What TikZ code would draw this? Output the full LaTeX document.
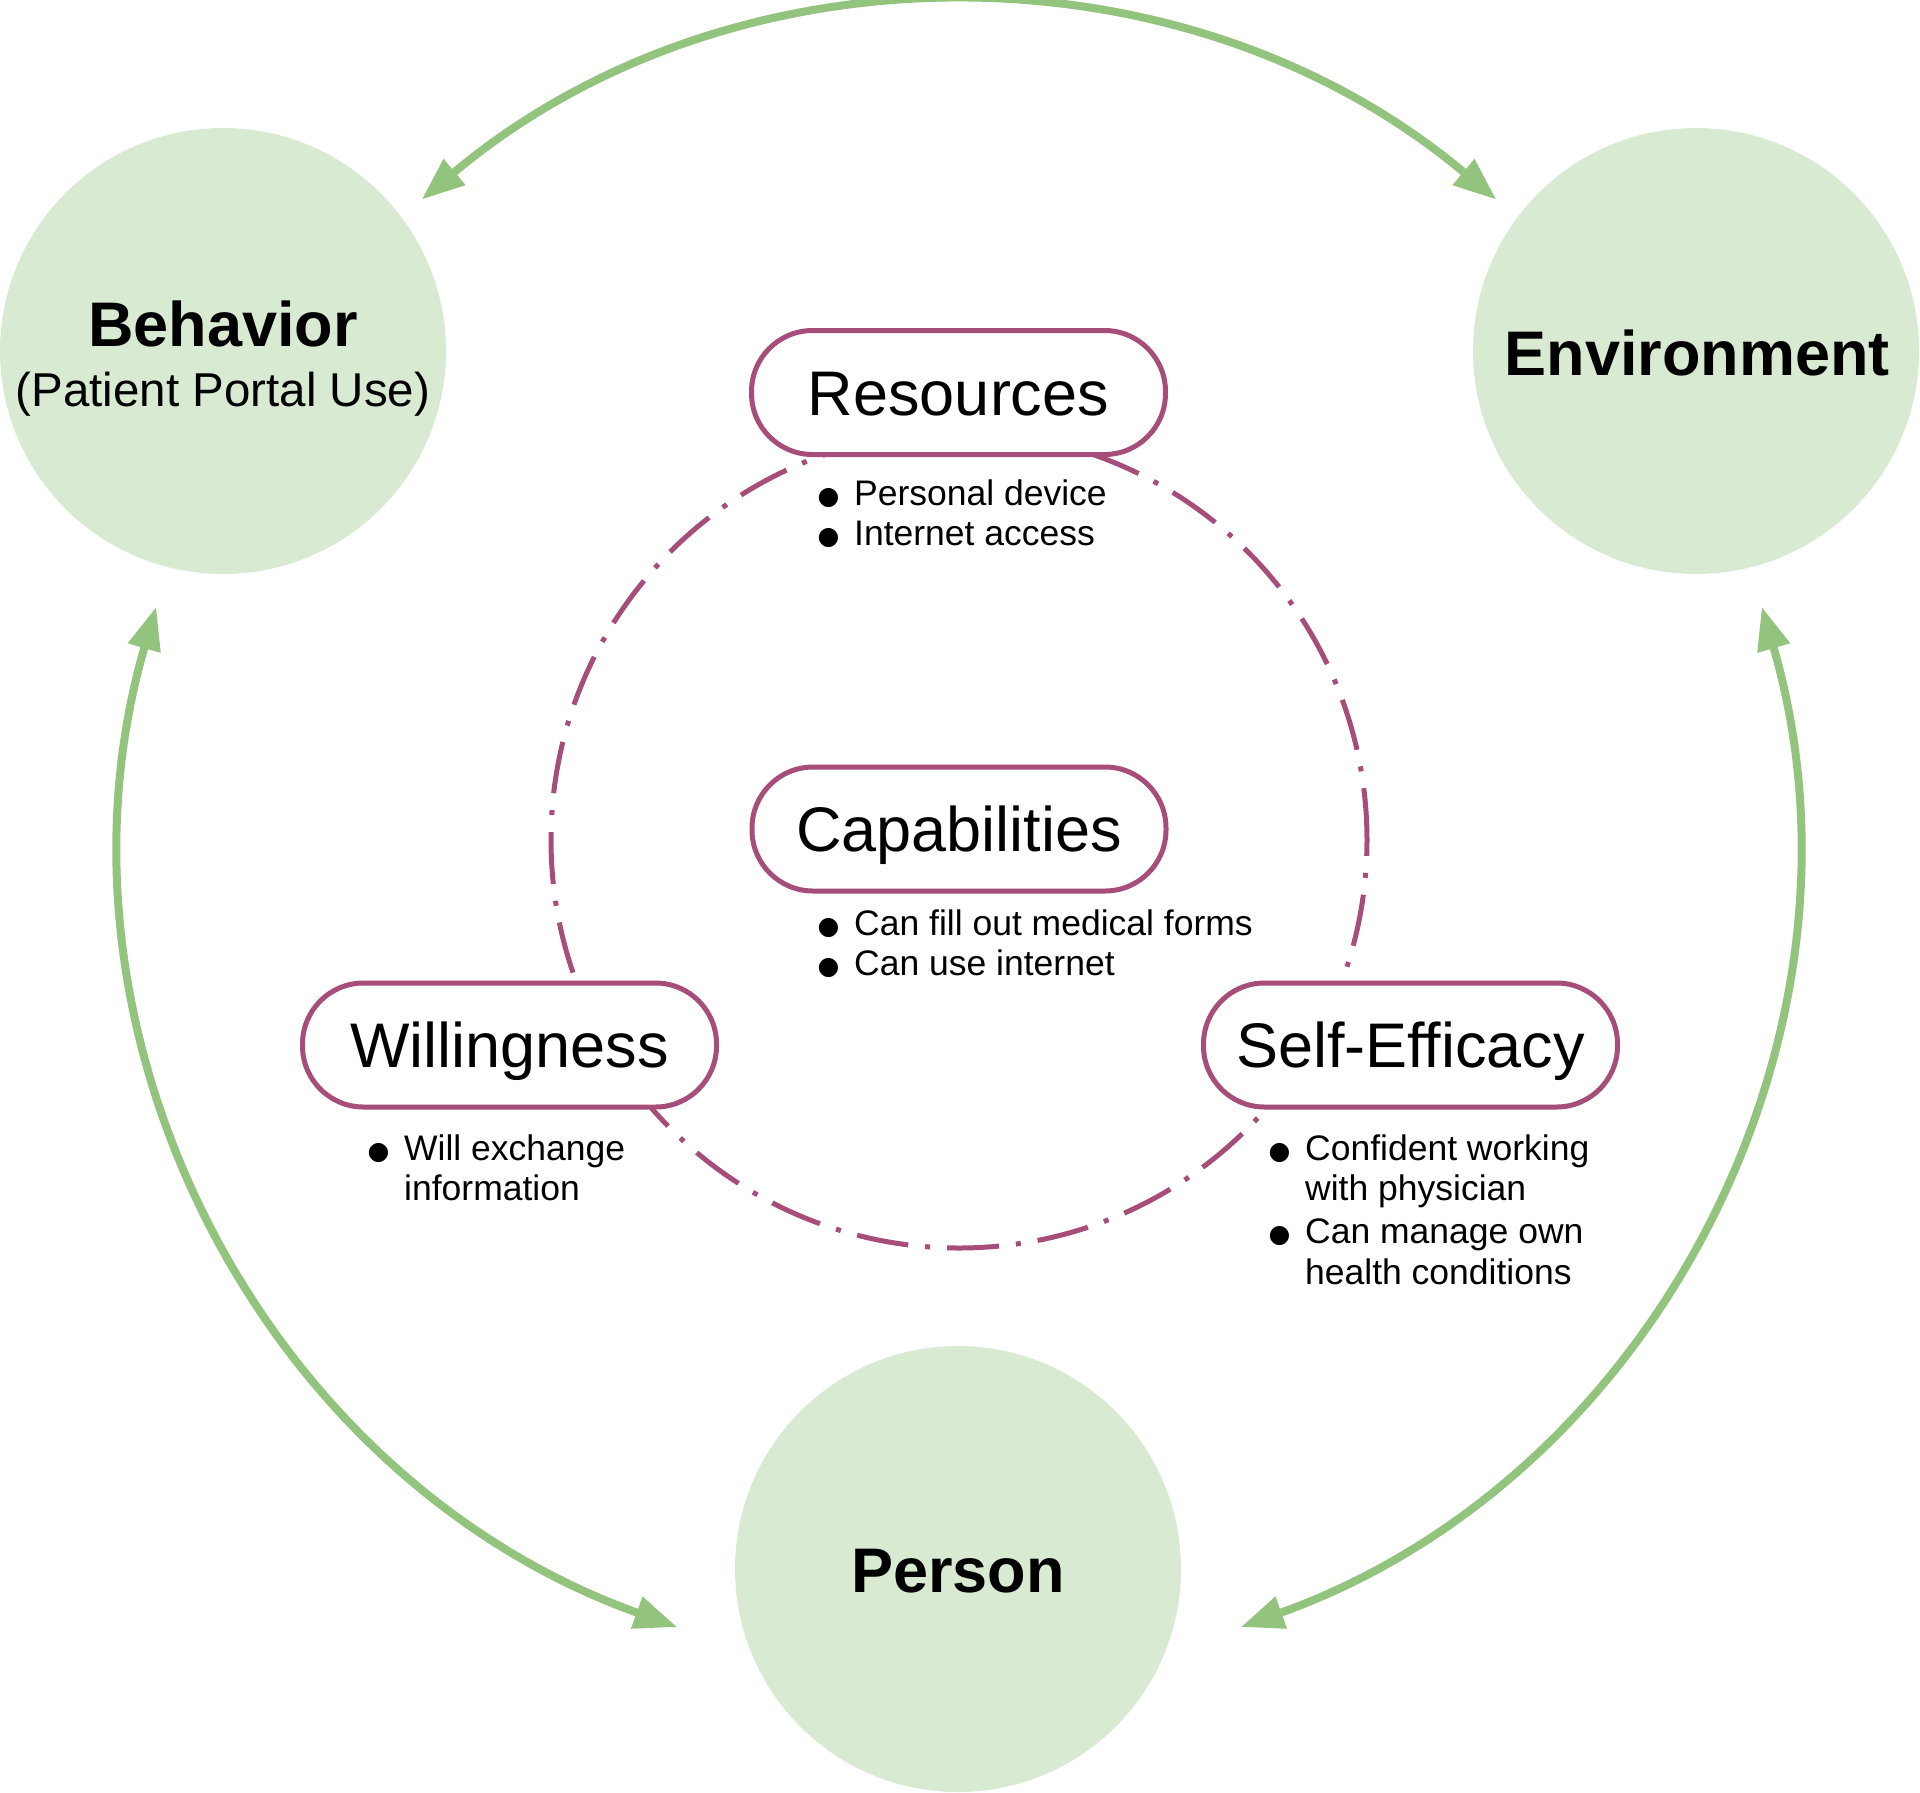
\documentclass[tikz,border=0pt]{standalone}
\usepackage{fontspec}
\setmainfont{Liberation Sans}
\newfontfamily\symfont{DejaVu Sans}
\usetikzlibrary{arrows.meta}
\definecolor{circfill}{HTML}{D9EAD3}
\definecolor{arrowgreen}{HTML}{93C47D}
\definecolor{plum}{HTML}{A64D79}
\newcommand{\bul}{\makebox[35pt][l]{\hspace{-1.5pt}\raisebox{0.8pt}{\symfont\fontsize{25}{25}\selectfont ●}}}
\tikzset{
  bigcirc/.style={circle, fill=circfill, draw=none, minimum size=446pt, inner sep=0pt},
  bigtxt/.style={font=\fontsize{63}{63}\selectfont\bfseries, inner sep=0pt, anchor=base},
  subtxt/.style={font=\fontsize{47.5}{47.5}\selectfont, inner sep=0pt, anchor=base},
  pill/.style={draw=plum, line width=5pt, fill=white, rounded corners=61pt,
    minimum width=414pt, minimum height=124pt, inner sep=0pt,
    font=\fontsize{63}{63}\selectfont, text height=45pt, text depth=0pt},
  blist/.style={font=\fontsize{35.5}{40.5}\selectfont, inner sep=0pt, anchor=base west},
  garrow/.style={draw=arrowgreen, line width=8pt,
    {Triangle[length=43pt,width=32pt]}-{Triangle[length=43pt,width=32pt]}},
  dashring/.style={circle, draw=plum, line width=5pt, inner sep=0pt,
    minimum size=816pt, dash pattern=on 52pt off 17pt on 5pt off 17pt},
}
\begin{document}
\begin{tikzpicture}[x=1pt,y=1pt]
\useasboundingbox (0,0) rectangle (1920,-1792);
\coordinate (O) at (959,-840);

% outer factor circles
\node[bigcirc] (beh) at (223,-351) {};
\node[bigcirc] (env) at (1696,-351) {};
\node[bigcirc] (per) at (958,-1569) {};
\node[bigtxt] (behT) at (223,-346) {Behavior};
\node[subtxt] (behS) at (223,-406) {(Patient Portal Use)};
\node[bigtxt] (envT) at (1697,-375) {Environment};
\node[bigtxt] (perT) at (958,-1592) {Person};

% reciprocal arrows on the big ring
\coordinate (t1) at ([shift={(130:836)}]O);
\coordinate (l1) at ([shift={(163.8:836)}]O);
\coordinate (r1) at ([shift={(16.2:836)}]O);
\draw[garrow] (t1) arc[start angle=130, end angle=50, radius=836];
\draw[garrow] (l1) arc[start angle=163.8, end angle=250.3, radius=836];
\draw[garrow] (r1) arc[start angle=16.2, end angle=-70.3, radius=836];

% inner dash-dot ring
\node[dashring] (ring) at (O) {};

% person components
\node[pill] (res) at (958.5,-392.5) {Resources};
\node[pill] (cap) at (959,-829) {Capabilities};
\node[pill] (wil) at (509.5,-1045) {Willingness};
\node[pill] (sef) at (1410.5,-1045) {Self-Efficacy};

\node[blist] (resL) at (819,-505) {\begin{tabular}[t]{@{}l@{}l@{}}\bul&Personal device\\ \bul&Internet access\end{tabular}};
\node[blist] (capL) at (819,-935) {\begin{tabular}[t]{@{}l@{}l@{}}\bul&Can fill out medical forms\\ \bul&Can use internet\end{tabular}};
\node[blist] (wilL) at (369,-1160) {\begin{tabular}[t]{@{}l@{}l@{}}\bul&Will exchange\\ &information\end{tabular}};
\node[blist] (sefL) at (1270,-1160) {\begin{tabular}[t]{@{}l@{}l@{}}\bul&Confident working\\ &with physician\\[2.5pt] \bul&Can manage own\\ &health conditions\end{tabular}};
\end{tikzpicture}
\end{document}
